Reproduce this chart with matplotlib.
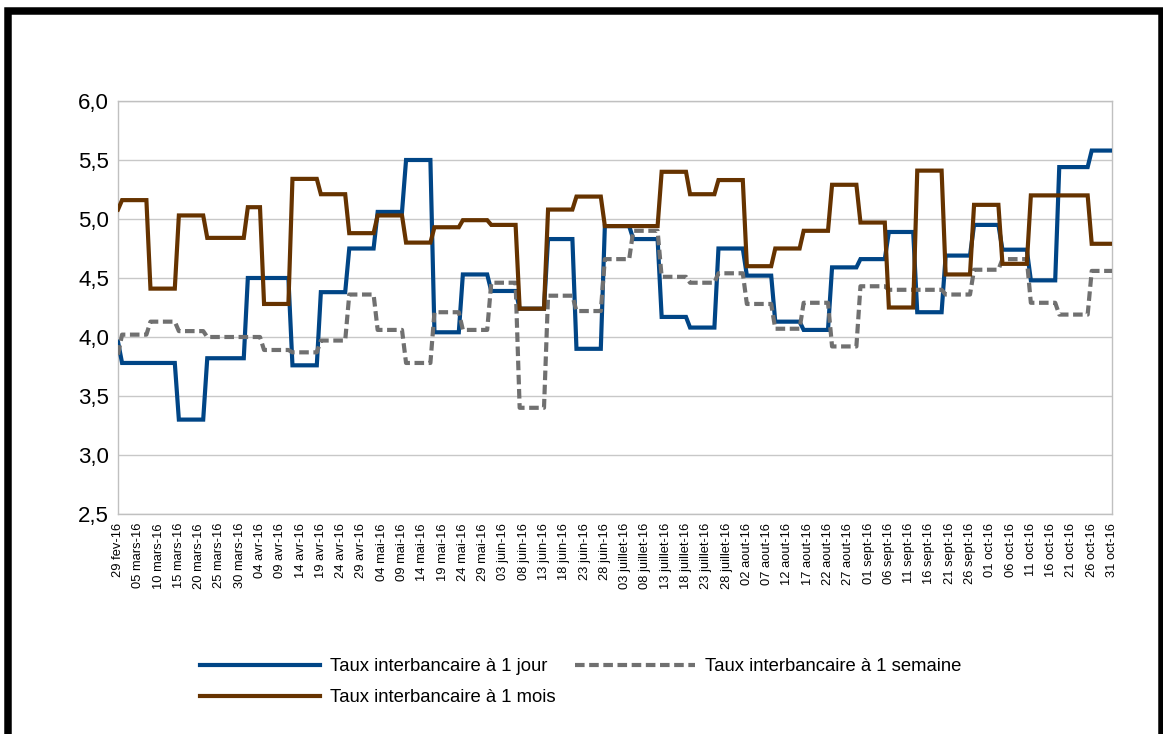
import numpy as np
import matplotlib
matplotlib.use('Agg')
import matplotlib.pyplot as plt
from matplotlib.patches import Rectangle

plt.rcParams['font.family'] = ['Liberation Sans', 'DejaVu Sans']

# day index 0 = 29 fev 2016, last day = 245 (31 oct 2016)
n_days = 246

# each series: first day of a run, and the rate held during that run
jour_start = [0, 1, 15, 22, 32, 43, 50, 57, 64, 71, 78, 85, 92, 99, 106, 113,
              120, 127, 134, 141, 148, 155, 162, 169, 176, 183, 190, 197, 204,
              211, 218, 225, 232, 240]
jour_vals = [3.96, 3.78, 3.30, 3.82, 4.50, 3.76, 4.38, 4.75, 5.06, 5.50, 4.04,
             4.53, 4.39, 4.24, 4.83, 3.90, 4.94, 4.83, 4.17, 4.08, 4.75, 4.52,
             4.13, 4.06, 4.59, 4.66, 4.89, 4.21, 4.69, 4.95, 4.74, 4.48, 5.44,
             5.58]

semaine_start = [0, 1, 8, 15, 22, 36, 43, 50, 57, 64, 71, 78, 85, 92, 99, 106,
                 113, 120, 127, 134, 141, 148, 155, 162, 169, 176, 183, 190,
                 204, 211, 218, 225, 232, 240]
semaine_vals = [3.85, 4.02, 4.13, 4.05, 4.00, 3.89, 3.87, 3.97, 4.36, 4.06,
                3.78, 4.21, 4.06, 4.46, 3.40, 4.35, 4.22, 4.66, 4.90, 4.51,
                4.46, 4.54, 4.28, 4.07, 4.29, 3.92, 4.43, 4.40, 4.36, 4.57,
                4.66, 4.29, 4.19, 4.56]

mois_start = [0, 1, 8, 15, 22, 32, 36, 43, 50, 57, 64, 71, 78, 85, 92, 99,
              106, 113, 120, 134, 141, 148, 155, 162, 169, 176, 183, 190, 197,
              204, 211, 218, 225, 240]
mois_vals = [5.08, 5.16, 4.41, 5.03, 4.84, 5.10, 4.28, 5.34, 5.21, 4.88, 5.03,
             4.80, 4.93, 4.99, 4.95, 4.24, 5.08, 5.19, 4.94, 5.40, 5.21, 5.33,
             4.60, 4.75, 4.90, 5.29, 4.97, 4.25, 5.41, 4.53, 5.12, 4.62, 5.20,
             4.79]

tick_labels = ["29 fev-16", "05 mars-16", "10 mars-16", "15 mars-16", "20 mars-16",
               "25 mars-16", "30 mars-16", "04 avr-16", "09 avr-16", "14 avr-16",
               "19 avr-16", "24 avr-16", "29 avr-16", "04 mai-16", "09 mai-16",
               "14 mai-16", "19 mai-16", "24 mai-16", "29 mai-16", "03 juin-16",
               "08 juin-16", "13 juin-16", "18 juin-16", "23 juin-16", "28 juin-16",
               "03 juillet-16", "08 juillet-16", "13 juillet-16", "18 juillet-16",
               "23 juillet-16", "28 juillet-16", "02 aout-16", "07 aout-16",
               "12 aout-16", "17 aout-16", "22 aout-16", "27 aout-16", "01 sept-16",
               "06 sept-16", "11 sept-16", "16 sept-16", "21 sept-16", "26 sept-16",
               "01 oct-16", "06 oct-16", "11 oct-16", "16 oct-16", "21 oct-16",
               "26 oct-16", "31 oct-16"]
y_ticks = [2.5, 3.0, 3.5, 4.0, 4.5, 5.0, 5.5, 6.0]

labels = ['Taux interbancaire à 1 jour', 'Taux interbancaire à 1 semaine',
          'Taux interbancaire à 1 mois']


def daily(starts, vals):
    lengths = np.diff(starts + [n_days])
    return np.repeat(vals, lengths)


days = np.arange(n_days)
W, H = 1163, 734
fig = plt.figure(figsize=(W / 100, H / 100), dpi=100)
ax = fig.add_axes([118 / W, 1 - 514 / H, (1112 - 118) / W, (514 - 101) / H])

l1, = ax.plot(days, daily(jour_start, jour_vals), color='#004586', lw=3.0,
              solid_joinstyle='miter', zorder=3)
l2, = ax.plot(days, daily(semaine_start, semaine_vals), color='#707070', lw=3.0,
              dashes=(2.3, 1.1), dash_capstyle='butt', zorder=4)
l3, = ax.plot(days, daily(mois_start, mois_vals), color='#663300', lw=3.0,
              solid_joinstyle='miter', zorder=5)

ax.set_xlim(0, n_days - 1)
ax.set_ylim(2.5, 6.0)
ax.set_xticks(np.arange(0, n_days, 5))
ax.set_xticklabels(tick_labels, rotation=90, fontsize=9.3, va='top', ha='center')
ax.set_yticks(y_ticks)
ax.set_yticklabels([f'{v:.1f}'.replace('.', ',') for v in y_ticks], fontsize=16)
ax.tick_params(axis='both', length=0, colors='black')
ax.tick_params(axis='x', pad=6.5)
ax.tick_params(axis='y', pad=6.5)
ax.grid(axis='y', color='#c8c8c8', lw=1.0)
ax.set_axisbelow(True)
for s in ax.spines.values():
    s.set_color('#c0c0c0')
    s.set_linewidth(1.0)

fig.legend([l1, l3, l2], [labels[0], labels[2], labels[1]], ncol=2,
           loc='upper left', bbox_to_anchor=(191 / W, 1 - 649 / H),
           frameon=False, borderpad=0, handlelength=6.5, handletextpad=0.55,
           columnspacing=1.0, labelspacing=0.75, fontsize=13.3)

# black frame around the chart
fig.add_artist(Rectangle((7.5 / W, -0.05), (1161.5 - 7.5) / W, 1.05 - 11 / H,
                         transform=fig.transFigure, fill=False, ec='black',
                         lw=5.4, clip_on=False))

fig.savefig('out.png', dpi=100)
